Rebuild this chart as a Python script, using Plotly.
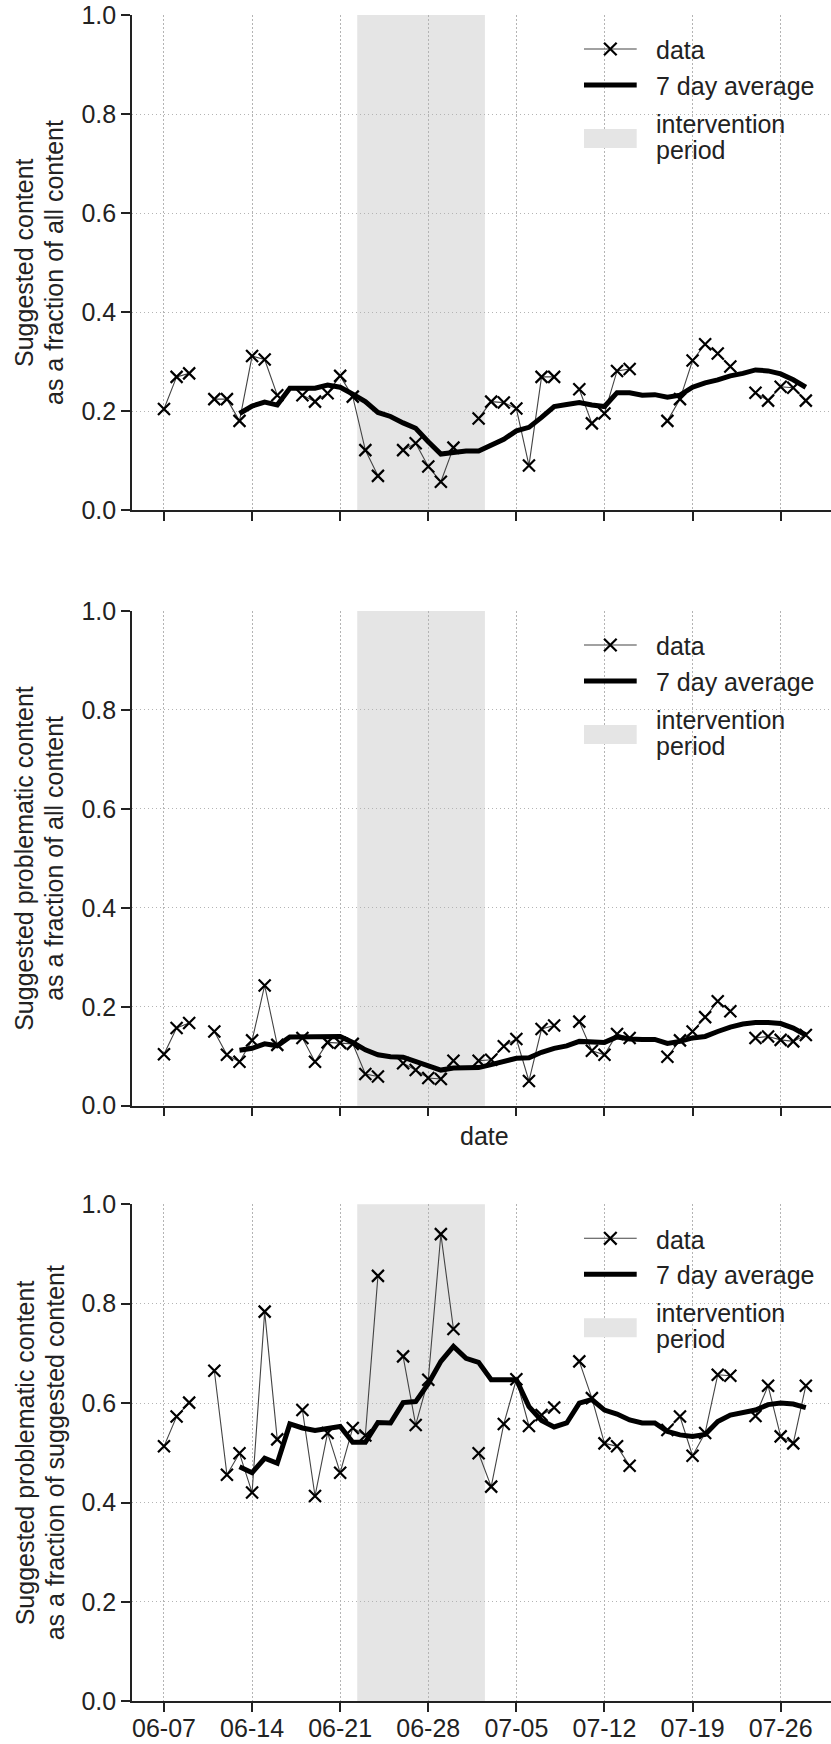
import plotly.graph_objects as go

W, H = 831, 1744

DATES = [
    "2021-06-07", "2021-06-08", "2021-06-09", "2021-06-10", "2021-06-11", "2021-06-12", "2021-06-13",
    "2021-06-14", "2021-06-15", "2021-06-16", "2021-06-17", "2021-06-18", "2021-06-19", "2021-06-20",
    "2021-06-21", "2021-06-22", "2021-06-23", "2021-06-24", "2021-06-25", "2021-06-26", "2021-06-27",
    "2021-06-28", "2021-06-29", "2021-06-30", "2021-07-01", "2021-07-02", "2021-07-03", "2021-07-04",
    "2021-07-05", "2021-07-06", "2021-07-07", "2021-07-08", "2021-07-09", "2021-07-10", "2021-07-11",
    "2021-07-12", "2021-07-13", "2021-07-14", "2021-07-15", "2021-07-16", "2021-07-17", "2021-07-18",
    "2021-07-19", "2021-07-20", "2021-07-21", "2021-07-22", "2021-07-23", "2021-07-24", "2021-07-25",
    "2021-07-26", "2021-07-27", "2021-07-28",
]

# Suggested content / all content
DATA1 = [0.204, 0.269, 0.276, None, 0.224, 0.224, 0.180,
         0.311, 0.304, 0.232, None, 0.232, 0.219, 0.236,
         0.271, 0.229, 0.121, 0.069, None, 0.121, 0.135,
         0.088, 0.057, 0.126, None, 0.185, 0.219, 0.217,
         0.205, 0.090, 0.269, 0.269, None, 0.244, 0.175,
         0.195, 0.281, 0.285, None, None, 0.180, 0.224,
         0.302, 0.335, 0.316, 0.290, None, 0.237, 0.221,
         0.249, 0.247, 0.221]
AVG1 = [None, None, None, None, None, None, 0.195,
        0.210, 0.218, 0.212, 0.246, 0.246, 0.246, 0.2525,
        0.248, 0.234, 0.219, 0.197, 0.189, 0.176, 0.165,
        0.138, 0.113, 0.116, 0.119, 0.119, 0.130, 0.143,
        0.160, 0.167, 0.187, 0.209, 0.213, 0.217, 0.212,
        0.209, 0.237, 0.237, 0.232, 0.233, 0.228, 0.232,
        0.248, 0.257, 0.263, 0.271, 0.276, 0.283, 0.281,
        0.275, 0.263, 0.248]

# Suggested problematic content / all content
DATA2 = [0.104, 0.157, 0.167, None, 0.150, 0.103, 0.089,
         0.132, 0.243, 0.123, None, 0.137, 0.089, 0.128,
         0.127, 0.125, 0.064, 0.059, None, 0.086, 0.072,
         0.056, 0.054, 0.091, None, 0.091, 0.093, 0.120,
         0.135, 0.050, 0.155, 0.162, None, 0.170, 0.111,
         0.103, 0.145, 0.137, None, None, 0.099, 0.132,
         0.150, 0.179, 0.211, 0.191, None, 0.137, 0.140,
         0.133, 0.130, 0.143]
AVG2 = [None, None, None, None, None, None, 0.112,
        0.116, 0.125, 0.121, 0.139, 0.139, 0.139, 0.140,
        0.140, 0.128, 0.113, 0.103, 0.099, 0.098, 0.089,
        0.079, 0.072, 0.076, 0.077, 0.077, 0.083, 0.089,
        0.096, 0.097, 0.108, 0.116, 0.121, 0.130, 0.128,
        0.128, 0.139, 0.135, 0.134, 0.134, 0.126, 0.130,
        0.137, 0.140, 0.150, 0.159, 0.165, 0.168, 0.168,
        0.166, 0.157, 0.143]

# Suggested problematic content / suggested content
DATA3 = [0.513, 0.573, 0.601, None, 0.665, 0.456, 0.499,
         0.420, 0.784, 0.527, None, 0.586, 0.413, 0.540,
         0.460, 0.550, 0.535, 0.856, None, 0.694, 0.556,
         0.647, 0.940, 0.749, None, 0.499, 0.432, 0.558,
         0.648, 0.554, 0.576, 0.591, None, 0.684, 0.610,
         0.519, 0.513, 0.474, None, None, 0.546, 0.573,
         0.494, 0.540, 0.657, 0.655, None, 0.574, 0.635,
         0.533, 0.519, 0.635]
AVG3 = [None, None, None, None, None, None, 0.472,
        0.460, 0.489, 0.479, 0.558, 0.550, 0.545, 0.550,
        0.553, 0.521, 0.521, 0.561, 0.560, 0.601, 0.603,
        0.639, 0.684, 0.714, 0.690, 0.682, 0.647, 0.647,
        0.647, 0.593, 0.565, 0.552, 0.560, 0.600, 0.607,
        0.586, 0.578, 0.566, 0.560, 0.560, 0.543, 0.536,
        0.533, 0.537, 0.563, 0.576, 0.580, 0.586, 0.597,
        0.600, 0.598, 0.591]

INTERVENTION = ["2021-06-22 08:30", "2021-07-02 12:00"]
YTICKS = [0.0, 0.2, 0.4, 0.6, 0.8, 1.0]
YLABELS = [
    ("Suggested content", "as a fraction of all content"),
    ("Suggested problematic content", "as a fraction of all content"),
    ("Suggested problematic content", "as a fraction of suggested content"),
]
LEGEND_TEXT = ["data", "7 day average", "intervention", "period"]

FONT = "Liberation Sans, Arial, sans-serif"
FS = 25
INK = "#222222"
GRID = "#b4b4b4"

# panel geometry (pixels)
X_LEFT = 131.7
PANELS = [(15.0, 510.0), (611.0, 1105.7), (1204.3, 1701.3)]  # (top, bottom)


def fx(px):
    return px / W


def fy(py):
    return 1 - py / H


fig = go.Figure()
series = [(DATA1, AVG1), (DATA2, AVG2), (DATA3, AVG3)]
layout = dict(
    width=W, height=H,
    margin=dict(l=0, r=0, t=0, b=0),
    paper_bgcolor="white", plot_bgcolor="white",
    showlegend=False,
    font=dict(family=FONT, size=FS, color=INK),
)
shapes = []
annotations = []

for i, ((d, a), (top, bot)) in enumerate(zip(series, PANELS), start=1):
    xa = "x" if i == 1 else f"x{i}"
    ya = "y" if i == 1 else f"y{i}"
    fig.add_trace(go.Scatter(
        x=DATES, y=d, mode="lines+markers", name="data",
        xaxis=xa, yaxis=ya, connectgaps=False,
        line=dict(color="#444444", width=1.1),
        marker=dict(symbol="x-thin", size=12, color="black",
                    line=dict(color="black", width=2.2)),
    ))
    fig.add_trace(go.Scatter(
        x=DATES, y=a, mode="lines", name="7 day average",
        xaxis=xa, yaxis=ya, connectgaps=False,
        line=dict(color="black", width=5),
    ))
    layout[f"xaxis{'' if i == 1 else i}"] = dict(
        domain=[fx(X_LEFT), 1.0], anchor=ya,
        range=["2021-06-04 10:25", "2021-07-30 00:00"],
        type="date", tick0="2021-06-07", dtick=7 * 86400000, tickformat="%m-%d",
        showticklabels=(i == 3), ticklabelstandoff=-5,
        ticks="outside", ticklen=8.5, tickwidth=2, tickcolor=INK,
        showline=True, linewidth=2, linecolor=INK,
        showgrid=True, gridcolor=GRID, gridwidth=1, griddash="1.5px,2.5px",
        zeroline=False, automargin=False,
        tickfont=dict(family=FONT, size=FS, color=INK),
    )
    layout[f"yaxis{'' if i == 1 else i}"] = dict(
        domain=[fy(bot), fy(top)], anchor=xa,
        range=[0, 1], tickvals=YTICKS, tickformat=".1f",
        ticks="outside", ticklen=8.5, tickwidth=2, tickcolor=INK,
        showline=True, linewidth=2, linecolor=INK,
        showgrid=True, gridcolor=GRID, gridwidth=1, griddash="1.5px,2.5px",
        zeroline=False, automargin=False,
        tickfont=dict(family=FONT, size=FS, color=INK),
    )
    # intervention period shading
    shapes.append(dict(
        type="rect", xref=xa, yref=f"{ya} domain",
        x0=INTERVENTION[0], x1=INTERVENTION[1], y0=0, y1=1,
        fillcolor="#e5e5e5", line=dict(width=0), layer="below",
    ))
    # y-axis title (two lines)
    cy = fy((top + bot) / 2)
    l1, l2 = YLABELS[i - 1]
    annotations.append(dict(text=l1, x=fx(24.5), y=cy, xref="paper", yref="paper",
                            xanchor="center", yanchor="middle", textangle=-90,
                            showarrow=False, font=dict(family=FONT, size=FS, color=INK)))
    annotations.append(dict(text=l2, x=fx(54.5), y=cy, xref="paper", yref="paper",
                            xanchor="center", yanchor="middle", textangle=-90,
                            showarrow=False, font=dict(family=FONT, size=FS, color=INK)))
    # legend (drawn in paper space)
    lx0, lx1 = 584.0, 636.7
    shapes.append(dict(type="line", xref="paper", yref="paper",
                       x0=fx(lx0), x1=fx(lx1), y0=fy(top + 34), y1=fy(top + 34),
                       line=dict(color="#444444", width=1.1)))
    mx, my, mr = (lx0 + lx1) / 2, top + 34, 6.3
    shapes.append(dict(type="path", xref="paper", yref="paper",
                       path=(f"M{fx(mx - mr)},{fy(my - mr)} L{fx(mx + mr)},{fy(my + mr)} "
                             f"M{fx(mx - mr)},{fy(my + mr)} L{fx(mx + mr)},{fy(my - mr)}"),
                       line=dict(color="black", width=2.2)))
    shapes.append(dict(type="line", xref="paper", yref="paper",
                       x0=fx(lx0), x1=fx(lx1), y0=fy(top + 70), y1=fy(top + 70),
                       line=dict(color="black", width=5)))
    shapes.append(dict(type="rect", xref="paper", yref="paper",
                       x0=fx(lx0), x1=fx(lx1), y0=fy(top + 133), y1=fy(top + 114),
                       fillcolor="#e5e5e5", line=dict(width=0)))
    for txt, off in zip(LEGEND_TEXT, [35.3, 71.0, 108.7, 134.7]):
        annotations.append(dict(text=txt, x=fx(653.5), y=fy(top + off), xref="paper", yref="paper",
                                xanchor="left", yanchor="middle", showarrow=False,
                                font=dict(family=FONT, size=FS, color=INK)))

annotations.append(dict(text="date", x=fx(484), y=fy(1136.3), xref="paper", yref="paper",
                        xanchor="center", yanchor="middle", showarrow=False,
                        font=dict(family=FONT, size=FS, color=INK)))

layout["shapes"] = shapes
layout["annotations"] = annotations
fig.update_layout(**layout)
fig.write_html(
    "out.html",
    config={"displayModeBar": False},
    post_script="document.body.style.margin='0px';document.body.style.overflow='hidden';",
)
